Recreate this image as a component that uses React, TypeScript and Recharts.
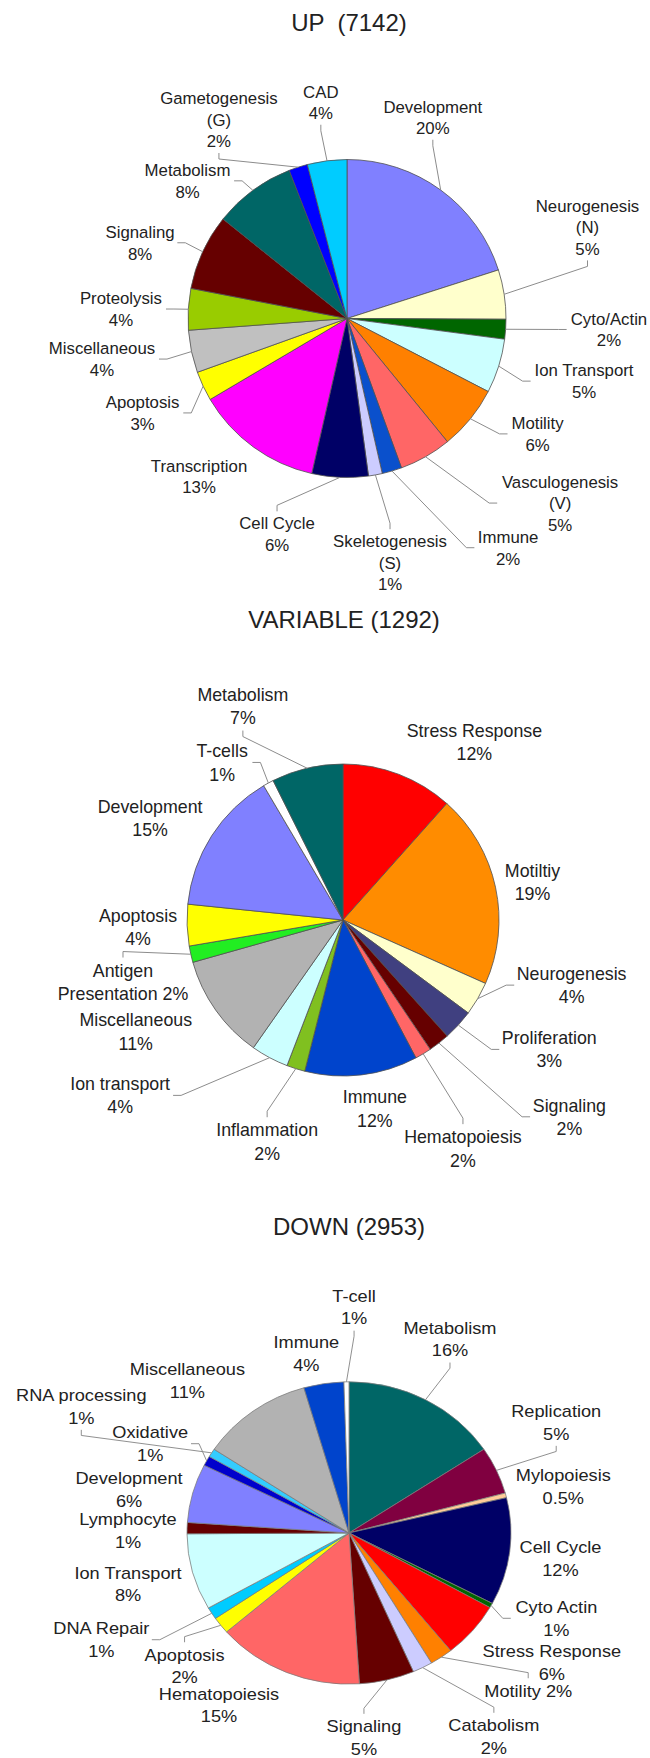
import React from 'react';
import { PieChart, Pie, Cell } from 'recharts';

const FONT = '"Liberation Sans", Arial, Helvetica, sans-serif';

// ---------- UP (7142) ----------
const upCategories = ['Development', 'Neurogenesis\n(N)', 'Cyto/Actin', 'Ion Transport', 'Motility', 'Vasculogenesis\n(V)', 'Immune', 'Skeletogenesis\n(S)', 'Cell Cycle', 'Transcription', 'Apoptosis', 'Miscellaneous', 'Proteolysis', 'Signaling', 'Metabolism', 'Gametogenesis\n(G)', 'CAD'];
const upValues = [20, 5, 2, 5.5, 6.5, 5.3, 2, 1.4, 5.7, 12.9, 3, 4.3, 4.2, 7.7, 8.3, 1.9, 4];
const upPctLabels = ['20%', '5%', '2%', '5%', '6%', '5%', '2%', '1%', '6%', '13%', '3%', '4%', '4%', '8%', '8%', '2%', '4%'];
const upColors = ['#8080FF', '#FFFFCC', '#006600', '#CCFFFF', '#FF8000', '#FF6666', '#0A50CC', '#CCCCFF', '#000066', '#FF00FF', '#FFFF00', '#C0C0C0', '#99CC00', '#660000', '#006666', '#0000FF', '#00CCFF'];
// label placement: [angle from 12 o'clock (deg), distance in radii, leader line, percent inline]
const upLabelLayout = [
  [23.1, 1.376, 1, 0], [69.2, 1.618, 1, 0], [92.4, 1.649, 1, 0], [104.8, 1.542, 1, 0],
  [121.2, 1.401, 1, 0], [130.9, 1.773, 1, 0], [144.9, 1.762, 1, 0], [170, 1.558, 1, 0],
  [198, 1.424, 1, 0], [223.1, 1.362, 0, 0], [245.2, 1.416, 1, 0], [260.6, 1.562, 1, 0],
  [272.4, 1.423, 1, 0], [290.1, 1.386, 1, 0], [310.8, 1.325, 1, 0], [327.2, 1.487, 1, 0],
  [353.1, 1.37, 1, 0],
];

// ---------- VARIABLE (1292) ----------
const varCategories = ['Stress Response', 'Motiltiy', 'Neurogenesis', 'Proliferation', 'Signaling', 'Hematopoiesis', 'Immune', 'Inflammation', 'Ion transport', 'Miscellaneous', 'Antigen\nPresentation', 'Apoptosis', 'Development', 'T-cells', 'Metabolism'];
const varValues = [11.6, 20.1, 3.5, 3.2, 2.2, 1.7, 11.7, 1.9, 3.9, 10.9, 1.7, 4.3, 14.9, 1.1, 7.4];
const varPctLabels = ['12%', '19%', '4%', '3%', '2%', '2%', '12%', '2%', '4%', '11%', '2%', '4%', '15%', '1%', '7%'];
const varColors = ['#FF0000', '#FF8C00', '#FFFFCC', '#404080', '#660000', '#FF6666', '#0044CC', '#80C020', '#CCFFFF', '#B2B2B2', '#22EE22', '#FFFF00', '#8080FF', '#FFFFFF', '#006666'];
const varLabelLayout = [
  [36.4, 1.419, 0, 0], [78.7, 1.239, 0, 0], [105.9, 1.524, 1, 0], [122.1, 1.561, 1, 0],
  [131, 1.923, 1, 0], [152.3, 1.654, 1, 0], [170.4, 1.226, 0, 0], [198.9, 1.501, 1, 0],
  [231.8, 1.818, 1, 0], [241.7, 1.509, 0, 0], [254.3, 1.465, 1, 1], [268, 1.315, 0, 0],
  [297.8, 1.398, 0, 0], [322.5, 1.273, 1, 0], [334.9, 1.513, 1, 0],
];

// ---------- DOWN (2953) ----------
const downCategories = ['Metabolism', 'Replication', 'Mylopoiesis', 'Cell Cycle', 'Cyto Actin', 'Stress Response', 'Motility', 'Catabolism', 'Signaling', 'Hematopoiesis', 'Apoptosis', 'DNA Repair', 'Ion Transport', 'Lymphocyte', 'Development', 'Oxidative', 'RNA processing', 'Miscellaneous', 'Immune', 'T-cell'];
const downValues = [15.7, 5.1, 0.5, 11.5, 0.5, 6.0, 2.3, 2.0, 5.5, 14.7, 1.8, 1.3, 8.2, 1.2, 6.3, 1.05, 0.9, 11.2, 4.0, 0.5];
const downPctLabels = ['16%', '5%', '0.5%', '12%', '1%', '6%', '2%', '2%', '5%', '15%', '2%', '1%', '8%', '1%', '6%', '1%', '1%', '11%', '4%', '1%'];
const downColors = ['#006666', '#800040', '#FFCC99', '#000066', '#006600', '#FF0000', '#FF8000', '#CCCCFF', '#660000', '#FF6666', '#FFFF00', '#00CCFF', '#CCFFFF', '#660000', '#8080FF', '#0000CC', '#33CCFF', '#B2B2B2', '#0044CC', '#FFFFFF'];
const downLabelLayout = [
  [25.9, 1.427, 1, 0], [60.2, 1.474, 1, 0], [76.9, 1.358, 0, 0], [97.3, 1.316, 0, 0],
  [113.8, 1.399, 1, 0], [124.3, 1.516, 0, 0], [133.3, 1.52, 1, 1], [146.4, 1.616, 1, 0],
  [176.1, 1.356, 1, 0], [215.2, 1.392, 0, 0], [229.1, 1.343, 1, 0], [245.2, 1.684, 1, 0],
  [256.1, 1.405, 0, 0], [270.8, 1.364, 0, 0], [282.0, 1.388, 0, 0], [295.7, 1.362, 1, 0],
  [296.9, 1.853, 1, 0], [315.3, 1.418, 0, 0], [347.5, 1.217, 0, 0], [1.2, 1.495, 1, 0],
];

const RAD = Math.PI / 180;

function charW(c: string): number {
  if ('ilj.,\'|'.includes(c)) return 0.222;
  if ('tfrI ()/-'.includes(c)) return 0.3;
  if ('mwMW'.includes(c)) return 0.86;
  if (c === '%') return 0.889;
  if (c >= 'A' && c <= 'Z') return 0.69;
  return 0.545;
}
function textWidth(s: string, fs: number): number {
  let w = 0;
  for (const c of s) w += charW(c);
  return w * fs;
}

type Cfg = {
  names: string[];
  pcts: string[];
  layout: number[][];
  fontSize: number;
  lineHeight: number;
};

function makeLabel(cfg: Cfg) {
  return (props: any) => {
    const { cx, cy, midAngle, outerRadius, index } = props;
    const [ang, dist, line, inline] = cfg.layout[index];
    const R = outerRadius;
    const lx = cx + dist * R * Math.sin(ang * RAD);
    const ly = cy - dist * R * Math.cos(ang * RAD);
    const nameLines = cfg.names[index].split('\n');
    const lines = inline
      ? [...nameLines.slice(0, -1), nameLines[nameLines.length - 1] + ' ' + cfg.pcts[index]]
      : [...nameLines, cfg.pcts[index]];
    const lh = cfg.lineHeight;
    const h = lines.length * lh;
    const w = Math.max(...lines.map((l) => textWidth(l, cfg.fontSize)));
    const top = ly - h / 2;

    let leader: React.ReactNode = null;
    if (line) {
      const px = cx + R * Math.cos(-midAngle * RAD);
      const py = cy + R * Math.sin(-midAngle * RAD);
      const hw = w / 2 + 3;
      const hh = h / 2 + 1;
      const dx = px - lx;
      const dy = py - ly;
      let ax: number, ay: number, bx: number, by: number;
      if (Math.abs(dx) / hw > Math.abs(dy) / hh) {
        const s = Math.sign(dx);
        ax = lx + s * hw;
        ay = ly;
        bx = ax + s * 8;
        by = ay;
      } else {
        const s = Math.sign(dy);
        ax = lx;
        ay = ly + s * hh;
        bx = ax;
        by = ay + s * 6;
      }
      leader = (
        <polyline
          points={`${px},${py} ${bx},${by} ${ax},${ay}`}
          fill="none"
          stroke="#8c8c8c"
          strokeWidth={1}
        />
      );
    }

    return (
      <g key={`lbl-${index}`}>
        {leader}
        <text
          x={lx}
          textAnchor="middle"
          fontFamily={FONT}
          fontSize={cfg.fontSize}
          fill="#222222"
        >
          {lines.map((l, i) => (
            <tspan key={i} x={lx} y={top + lh * i + lh / 2 + cfg.fontSize * 0.36}>
              {l}
            </tspan>
          ))}
        </text>
      </g>
    );
  };
}

type ChartProps = {
  names: string[];
  values: number[];
  pcts: string[];
  colors: string[];
  layout: number[][];
  top: number;
  height: number;
  cx: number;
  cy: number;
  radius: number;
  scaleY: number;
  fontSize: number;
  lineHeight: number;
  stroke: string;
};

function OnePie(p: ChartProps) {
  const data = p.values.map((v, i) => ({ name: p.names[i].replace('\n', ' '), value: v }));
  const label = makeLabel({
    names: p.names,
    pcts: p.pcts,
    layout: p.layout,
    fontSize: p.fontSize,
    lineHeight: p.lineHeight,
  });
  return (
    <div
      style={{
        position: 'absolute',
        left: 0,
        top: p.top,
        width: 650,
        height: p.height,
        transform: `scaleY(${p.scaleY})`,
        transformOrigin: '0 0',
      }}
    >
      <PieChart width={650} height={p.height} margin={{ top: 0, right: 0, bottom: 0, left: 0 }}>
        <Pie
          data={data}
          dataKey="value"
          nameKey="name"
          cx={p.cx}
          cy={p.cy}
          innerRadius={0}
          outerRadius={p.radius}
          startAngle={90}
          endAngle={-270}
          stroke={p.stroke}
          strokeWidth={0.8}
          isAnimationActive={false}
          labelLine={false}
          label={label}
        >
          {data.map((d, i) => (
            <Cell key={d.name + i} fill={p.colors[i]} />
          ))}
        </Pie>
      </PieChart>
    </div>
  );
}

function Title({ text, x, y }: { text: string; x: number; y: number }) {
  return (
    <div
      style={{
        position: 'absolute',
        left: x,
        top: y - 14,
        transform: 'translateX(-50%)',
        fontFamily: FONT,
        fontSize: 24,
        lineHeight: '28px',
        color: '#222222',
        whiteSpace: 'pre',
      }}
    >
      {text}
    </div>
  );
}

export default function App() {
  return (
    <div
      style={{
        position: 'absolute',
        left: 0,
        top: 0,
        width: 650,
        height: 1758,
        background: '#ffffff',
        overflow: 'hidden',
      }}
    >
      <Title text="UP  (7142)" x={349} y={23} />
      <OnePie
        names={upCategories}
        values={upValues}
        pcts={upPctLabels}
        colors={upColors}
        layout={upLabelLayout}
        top={0}
        height={600}
        cx={347}
        cy={318.5}
        radius={159}
        scaleY={1}
        fontSize={16.8}
        lineHeight={21.5}
        stroke="#505050"
      />
      <Title text="VARIABLE (1292)" x={344} y={620} />
      <OnePie
        names={varCategories}
        values={varValues}
        pcts={varPctLabels}
        colors={varColors}
        layout={varLabelLayout}
        top={600}
        height={600}
        cx={343}
        cy={320}
        radius={156}
        scaleY={1}
        fontSize={17.8}
        lineHeight={23.3}
        stroke="#505050"
      />
      <Title text="DOWN (2953)" x={349} y={1227} />
      <OnePie
        names={downCategories}
        values={downValues}
        pcts={downPctLabels}
        colors={downColors}
        layout={downLabelLayout}
        top={1240}
        height={560}
        cx={349}
        cy={314}
        radius={162}
        scaleY={0.933}
        fontSize={18.2}
        lineHeight={24.3}
        stroke="#7a7a7a"
      />
    </div>
  );
}
